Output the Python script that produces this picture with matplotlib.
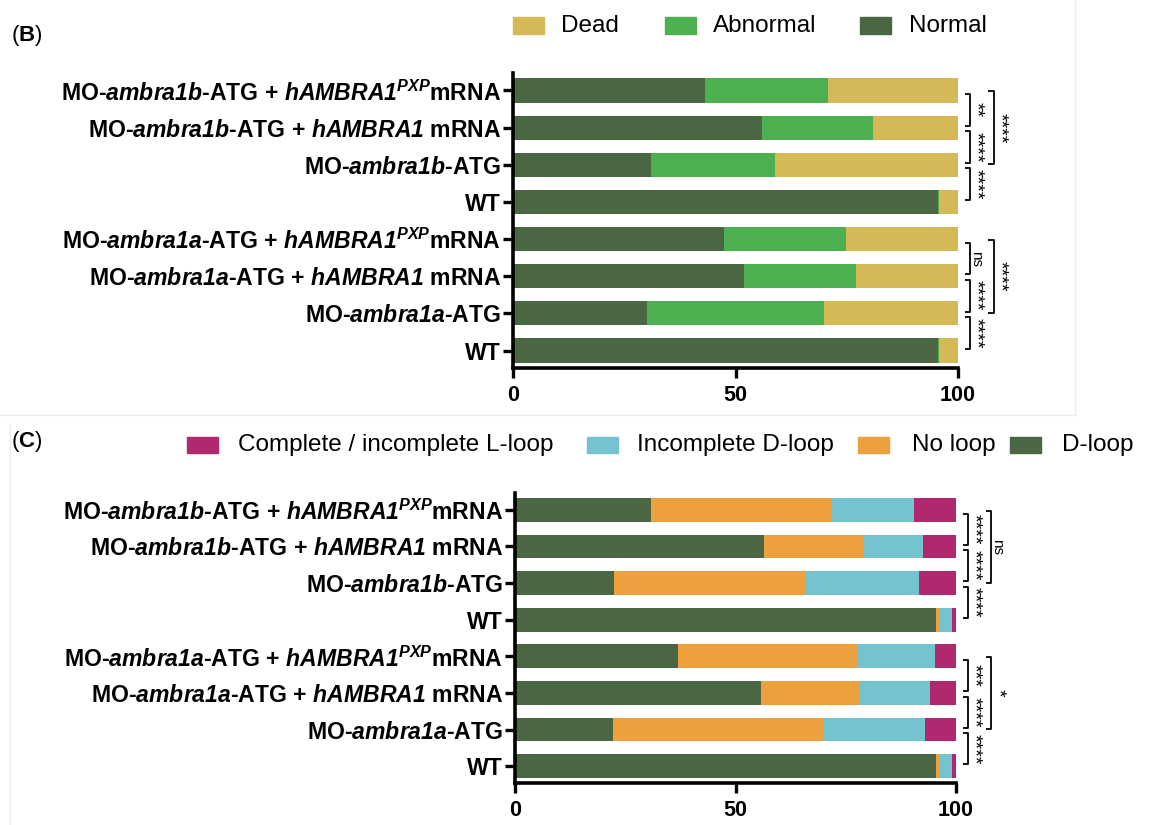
import matplotlib
matplotlib.use("Agg")
import matplotlib.pyplot as plt
from matplotlib.patches import Rectangle
from matplotlib.lines import Line2D
import numpy as np

plt.rcParams['font.family'] = ['Liberation Sans', 'DejaVu Sans']
plt.rcParams['mathtext.fontset'] = 'custom'
plt.rcParams['mathtext.rm'] = 'Liberation Sans:bold'
plt.rcParams['mathtext.it'] = 'Liberation Sans:italic:bold'
plt.rcParams['mathtext.sf'] = 'Liberation Sans:italic:bold'
plt.rcParams['mathtext.bf'] = 'Liberation Sans:bold'

# ---------------- data ----------------
categories = [
    r"MO-$\mathsf{ambra1b}$-ATG + $\mathsf{hAMBRA1}^{\mathsf{PXP}}$mRNA",
    r"MO-$\mathsf{ambra1b}$-ATG + $\mathsf{hAMBRA1}$ mRNA",
    r"MO-$\mathsf{ambra1b}$-ATG",
    "WT",
    r"MO-$\mathsf{ambra1a}$-ATG + $\mathsf{hAMBRA1}^{\mathsf{PXP}}$mRNA",
    r"MO-$\mathsf{ambra1a}$-ATG + $\mathsf{hAMBRA1}$ mRNA",
    r"MO-$\mathsf{ambra1a}$-ATG",
    "WT",
]

# Panel B (percent), rows top to bottom
b_normal   = [43.2, 55.9, 31.1, 95.4, 47.5, 52.0, 30.0, 95.4]
b_abnormal = [27.5, 25.0, 27.8, 0.4, 27.3, 25.0, 39.8, 0.4]
b_dead     = [29.3, 19.1, 41.1, 4.2, 25.2, 23.0, 30.2, 4.2]
b_labels = ["Dead", "Abnormal", "Normal"]
b_colors = {"Normal": "#4b6642", "Abnormal": "#4caf50", "Dead": "#d4b956"}

# Panel C (percent), rows top to bottom
c_dloop      = [30.9, 56.4, 22.4, 95.4, 36.9, 55.7, 22.3, 95.4]
c_noloop     = [41.0, 22.5, 43.6, 1.0, 40.9, 22.4, 47.5, 1.0]
c_incomplete = [18.5, 13.7, 25.7, 2.7, 17.4, 15.9, 23.1, 2.7]
c_lloop      = [9.6, 7.4, 8.3, 0.9, 4.8, 6.0, 7.1, 0.9]
c_labels = ["Complete / incomplete L-loop", "Incomplete D-loop", "No loop", "D-loop"]
c_colors = {"D-loop": "#4b6642", "No loop": "#eda03e",
            "Incomplete D-loop": "#74c4d0", "Complete / incomplete L-loop": "#b0296f"}

# significance brackets: (top row, bottom row, label)
b_small = [(0, 1, "**"), (1, 2, "****"), (2, 3, "****"),
           (4, 5, "ns"), (5, 6, "****"), (6, 7, "****")]
b_big = [(0, 2, "****"), (4, 6, "****")]
c_small = [(0, 1, "****"), (1, 2, "****"), (2, 3, "****"),
           (4, 5, "***"), (5, 6, "****"), (6, 7, "****")]
c_big = [(0, 2, "ns"), (4, 6, "*")]

xticks = [0, 50, 100]

W, H = 1153, 825
fig = plt.figure(figsize=(W / 100, H / 100), dpi=100)


def fx(px):
    return px / W


def fy(py):
    return 1 - py / H


def style_axes(ax, ylim):
    ax.set_xlim(0, 100)
    ax.set_ylim(*ylim)
    for s in ["top", "right"]:
        ax.spines[s].set_visible(False)
    for s in ["left", "bottom"]:
        ax.spines[s].set_linewidth(2.6)
        ax.spines[s].set_capstyle('projecting')
    ax.set_yticks(range(len(categories)))
    ax.set_yticklabels(categories, fontsize=16.6, fontweight='bold')
    ax.set_xticks(xticks)
    ax.set_xticklabels([str(t) for t in xticks], fontsize=15.5, fontweight='bold')
    ax.tick_params(axis='y', length=7, width=2.4, pad=1.5)
    ax.tick_params(axis='x', length=7, width=2.4, pad=5)


def draw_brackets(ax, small, big):
    kw = dict(color='black', lw=1.3, clip_on=False, solid_capstyle='butt')

    def label(x, y, lab):
        fs = 11 if lab == "ns" else 14
        ax.text(x, y, lab, rotation=270, ha='center', va='center',
                fontsize=fs, clip_on=False)

    for (i, j, lab) in small:
        y0, y1 = i + 0.10, j - 0.05
        ax.add_line(Line2D([101.6, 102.7, 102.7, 101.6], [y0, y0, y1, y1], **kw))
        label(104.0, (y0 + y1) / 2, lab)
    for (i, j, lab) in big:
        y0, y1 = i + 0.02, j - 0.01
        ax.add_line(Line2D([106.8, 108.0, 108.0, 106.8], [y0, y0, y1, y1], **kw))
        label(109.4, (y0 + y1) / 2, lab)


ypos = np.arange(len(categories))
bh = 0.65

# ---------------- panel B ----------------
axB = fig.add_axes([fx(513), fy(368), fx(958 - 513), (368 - 73) / H])
left = np.zeros(len(categories))
for name, vals in [("Normal", b_normal), ("Abnormal", b_abnormal), ("Dead", b_dead)]:
    axB.barh(ypos, vals, left=left, height=bh, color=b_colors[name], edgecolor='none')
    left = left + np.array(vals)
style_axes(axB, (7.47, -0.47))
draw_brackets(axB, b_small, b_big)

# ---------------- panel C ----------------
axC = fig.add_axes([fx(515), fy(783), fx(956 - 515), (783 - 493) / H])
left = np.zeros(len(categories))
for name, vals in [("D-loop", c_dloop), ("No loop", c_noloop),
                   ("Incomplete D-loop", c_incomplete),
                   ("Complete / incomplete L-loop", c_lloop)]:
    axC.barh(ypos, vals, left=left, height=bh, color=c_colors[name], edgecolor='none')
    left = left + np.array(vals)
style_axes(axC, (7.46, -0.46))
draw_brackets(axC, c_small, c_big)

# ---------------- legends ----------------
def legend_row(labels, colors, rect_x, text_x, yc):
    for lab, rx, tx in zip(labels, rect_x, text_x):
        fig.patches.append(Rectangle((fx(rx), fy(yc + 8)), fx(31), 16 / H,
                                     transform=fig.transFigure, color=colors[lab]))
        fig.text(fx(tx), fy(yc), lab, fontsize=17.5, ha='left', va='center')


legend_row(b_labels, b_colors, [513, 665, 860], [561, 713, 909], 25.5)
legend_row(c_labels, c_colors, [187, 587, 858, 1010], [238, 637, 912, 1062], 444.5)

# panel letters
fig.text(fx(11), fy(36), r"($\mathbf{B}$)", fontsize=16, ha='left', va='center')
fig.text(fx(11), fy(441), r"($\mathbf{C}$)", fontsize=16, ha='left', va='center')

# faint panel frames
fc = '#ececec'
fig.add_artist(Line2D([0, fx(1075)], [fy(415), fy(415)], color=fc, lw=1,
                      transform=fig.transFigure))
fig.add_artist(Line2D([fx(1075), fx(1075)], [fy(0), fy(415)], color=fc, lw=1,
                      transform=fig.transFigure))
fig.add_artist(Line2D([fx(10), fx(10)], [fy(425), fy(825)], color=fc, lw=1,
                      transform=fig.transFigure))

fig.savefig("out.png", dpi=100)
